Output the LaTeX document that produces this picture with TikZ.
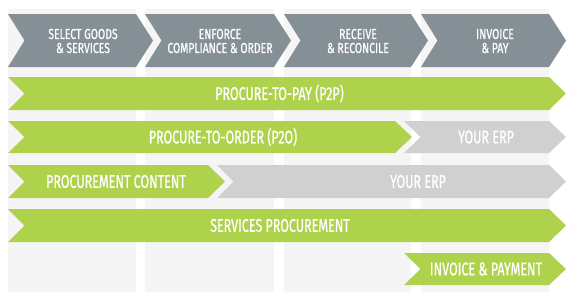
\documentclass[tikz,border=0pt]{standalone}
\usepackage{fontspec}
\newfontfamily\hdrfont{Fira Sans}[FakeStretch=0.72,FakeBold=0.6]
\newfontfamily\barfont{Fira Sans}[FakeStretch=0.68,FakeBold=0.7]
\definecolor{hdrgrey}{HTML}{858F96}
\definecolor{pgreen}{HTML}{AED24C}
\definecolor{erpgrey}{HTML}{D0D0D0}
\definecolor{colbg}{HTML}{F5F5F5}
% chevron: fill, left x, right x (body), top y, bottom y
\newcommand\chevshape[5]{%
  \fill[#1] (#2,#4) -- (#3,#4) -- ({#3+17},{(#4+#5)/2}) -- (#3,#5) -- (#2,#5)
    -- ({#2+16.5},{(#4+#5)/2}) -- cycle;}
\begin{document}
\begin{tikzpicture}[x=1pt,y=-1pt,
  hdrtext/.style={text=white,font=\hdrfont\fontsize{14.5}{14}\selectfont,align=center,inner sep=0pt},
  bartext/.style={text=white,font=\barfont\fontsize{18.4}{18}\selectfont,inner sep=0pt}]
\useasboundingbox (0,0) rectangle (575,300);
\fill[white] (0,0) rectangle (575,300);
% columns
\foreach \a/\b in {8/136,145/274,284/411,421/549}
  \fill[colbg] (\a,9) rectangle (\b,292);
% header chevrons
\chevshape{hdrgrey}{8}{136}{14}{67}
\chevshape{hdrgrey}{145}{274}{14}{67}
\chevshape{hdrgrey}{284}{411}{14}{67}
\chevshape{hdrgrey}{421}{549}{14}{67}
\node[hdrtext] (h1) at (83,41) {SELECT GOODS\\\& SERVICES};
\node[hdrtext] (h2) at (220,41) {ENFORCE\\COMPLIANCE \& ORDER};
\node[hdrtext] (h3) at (358,41) {RECEIVE\\\& RECONCILE};
\node[hdrtext] (h4) at (495,41) {INVOICE\\\& PAY};
% row 1
\chevshape{pgreen}{8}{549}{77}{110}
\node[bartext] (p2p) at (279.5,93.5) {PROCURE-TO-PAY (P2P)};
% row 2
\chevshape{pgreen}{8}{395}{121}{153}
\chevshape{erpgrey}{404}{549}{121}{153}
\node[bartext] (p2o) at (223,137) {PROCURE-TO-ORDER (P2O)};
\node[bartext] (erp1) at (486,137) {YOUR ERP};
% row 3
\chevshape{pgreen}{8}{208}{165}{198}
\chevshape{erpgrey}{217}{549}{165}{198}
\node[bartext] (pc) at (116,181.5) {PROCUREMENT CONTENT};
\node[bartext] (erp2) at (418,181.5) {YOUR ERP};
% row 4
\chevshape{pgreen}{8}{549}{209}{242}
\node[bartext] (sp) at (280,225.5) {SERVICES PROCUREMENT};
% row 5
\chevshape{pgreen}{404}{549}{253}{285}
\node[bartext] (ip) at (486,269) {INVOICE \& PAYMENT};
\end{tikzpicture}
\end{document}
